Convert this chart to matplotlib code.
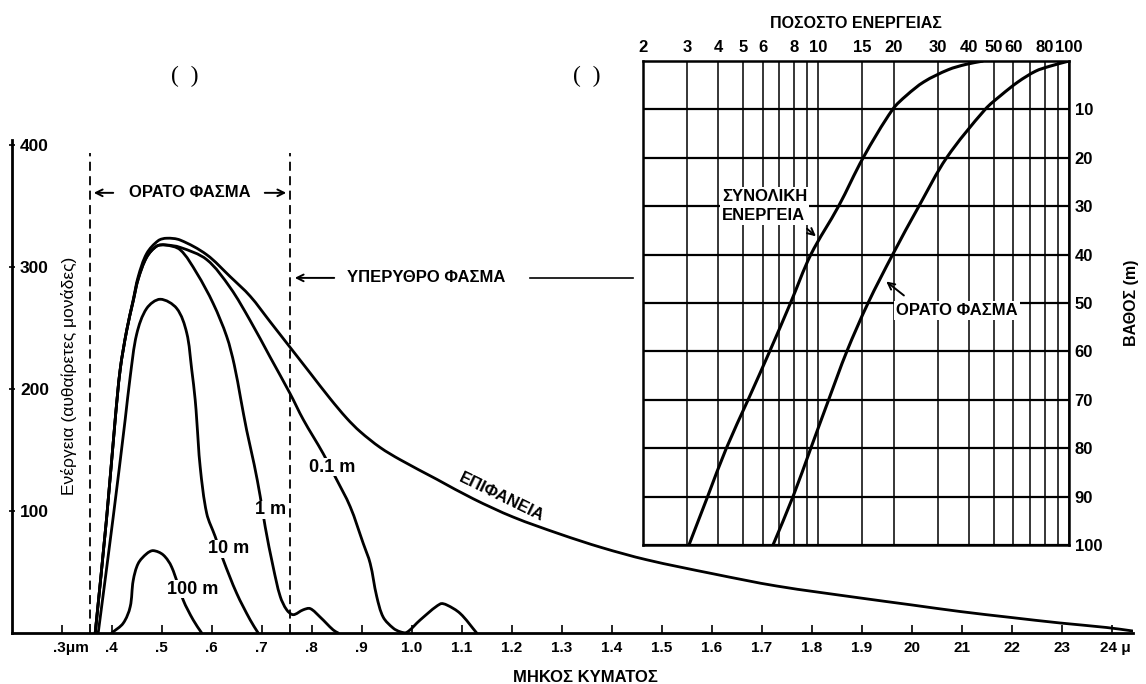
import matplotlib
matplotlib.use('Agg')
import matplotlib.pyplot as plt
import numpy as np
from matplotlib.path import Path
from matplotlib.patches import PathPatch
from matplotlib.transforms import ScaledTranslation

plt.rcParams['font.family'] = ['Liberation Sans', 'DejaVu Sans']
plt.rcParams['font.weight'] = 'bold'
plt.rcParams['axes.labelweight'] = 'bold'

# spectral energy vs wavelength (micron), arbitrary units
lam_surface = [0.367, 0.39, 0.407, 0.417, 0.43, 0.443, 0.453, 0.47, 0.493, 0.51, 0.537, 0.59, 0.637,
               0.677, 0.717, 0.757, 0.797, 0.837, 0.87, 0.897, 0.937, 0.977, 1.05, 1.123, 1.203, 1.297,
               1.38, 1.47, 1.603, 1.73, 1.897, 2.0, 2.097, 2.197, 2.297, 2.39, 2.443]
e_surface = [0, 95, 175, 216, 248, 273, 292, 311, 321.5, 323.5, 322, 310, 292,
             276, 255, 234, 213, 192, 176, 165, 152, 142, 126, 110, 95, 81,
             70, 60, 48.5, 38.5, 28.7, 23, 17.6, 12.8, 8.2, 4.5, 1.6]

lam_01m = [0.367, 0.39, 0.407, 0.417, 0.43, 0.443, 0.453, 0.47, 0.49, 0.507, 0.537, 0.59, 0.637, 0.677,
           0.717, 0.757, 0.783, 0.823, 0.847, 0.877, 0.903, 0.917, 0.93, 0.943, 0.963, 0.977, 0.99,
           1.017, 1.057, 1.07, 1.097, 1.13]
e_01m = [0, 95, 175, 216, 248, 272, 290, 308, 317, 318, 316, 306, 283, 256,
         226, 196, 175, 147, 128, 103.5, 73.5, 57, 30, 13, 4, 1, 0.5,
         10.7, 23.8, 23, 16, 0]

lam_1m = [0.367, 0.39, 0.407, 0.417, 0.43, 0.443, 0.453, 0.47, 0.49, 0.507, 0.537, 0.57, 0.603, 0.63,
          0.645, 0.658, 0.67, 0.685, 0.697, 0.707, 0.723, 0.737, 0.75, 0.763, 0.783, 0.797, 0.817,
          0.843, 0.853]
e_1m = [0, 95, 175, 216, 248, 272, 290, 308, 317, 318, 314, 295, 270, 243,
        220, 192, 166, 138, 112, 87, 54, 30, 19, 15, 19, 20, 13,
        2.5, 0]

lam_10m = [0.373, 0.403, 0.427, 0.437, 0.45, 0.47, 0.497, 0.53, 0.55, 0.56, 0.567, 0.57, 0.577, 0.59,
           0.607, 0.623, 0.65, 0.677, 0.693]
e_10m = [0, 95, 175, 210, 245, 266, 273.5, 266, 246, 216, 191, 175, 136, 98,
         79, 60, 32.5, 10.7, 0]

lam_100m = [0.4, 0.423, 0.437, 0.443, 0.453, 0.47, 0.483, 0.503, 0.52, 0.543, 0.563, 0.58]
e_100m = [0, 8, 21.5, 43, 57, 65, 67.5, 64, 54, 27, 10.7, 0]

wl_ticks = [0.3, 0.4, 0.5, 0.6, 0.7, 0.8, 0.9, 1.0, 1.1, 1.2, 1.3, 1.4, 1.5, 1.6, 1.7, 1.8, 1.9,
            2.0, 2.1, 2.2, 2.3, 2.4]
wl_labels = ['.3μm', '.4', '.5', '.6', '.7', '.8', '.9', '1.0', '1.1', '1.2', '1.3', '1.4', '1.5',
             '1.6', '1.7', '1.8', '1.9', '20', '21', '22', '23', '24 μ']
e_ticks = [100, 200, 300, 400]

# percentage of surface energy remaining vs depth (m)
depth_total = [0, 0.7, 1.8, 4.3, 7.1, 10, 20, 30, 40, 50, 60, 70, 80, 90, 100]
pct_total = [45.5, 38.8, 33.0, 26.4, 22.5, 19.8, 15.1, 12.05, 9.34, 7.75, 6.4, 5.25, 4.3, 3.62, 3.05]
depth_visible = [0, 1.1, 2.1, 4.3, 7.1, 10, 20, 30, 40, 50, 60, 70, 80, 90, 100]
pct_visible = [100, 83.6, 73.6, 62.7, 53.5, 46.3, 32.5, 25.2, 19.8, 15.8, 13.0, 11.0, 9.34, 7.93, 6.6]

pct_ticks = [2, 3, 4, 5, 6, 8, 10, 15, 20, 30, 40, 50, 60, 80, 100]
pct_labels = ['2', '3', '4', '5', '6', '8', '10', '15', '20', '30', '40', '50', '60', '80', '100']
pct_minor = [7, 9, 70, 90]
depth_ticks = [10, 20, 30, 40, 50, 60, 70, 80, 90, 100]

W, H = 1146, 684


def box(x0, y0, x1, y1):
    # pixel box (from top-left) -> figure fraction rect
    return [x0 / W, 1 - y1 / H, (x1 - x0) / W, (y1 - y0) / H]


def smooth_path(xs, ys, sx=1.0, sy=1.0):
    # cubic Hermite through every point, chord-length tangents (sx, sy = px per unit)
    p = np.column_stack([np.asarray(xs, float) * sx, np.asarray(ys, float) * sy])
    d = np.hypot(*np.diff(p, axis=0).T)
    n = len(p)
    tang = np.zeros_like(p)
    tang[0] = (p[1] - p[0]) / d[0]
    tang[-1] = (p[-1] - p[-2]) / d[-1]
    for i in range(1, n - 1):
        tang[i] = (p[i + 1] - p[i - 1]) / (d[i - 1] + d[i])
    verts = [p[0]]
    codes = [Path.MOVETO]
    for i in range(n - 1):
        verts += [p[i] + tang[i] * d[i] / 3, p[i + 1] - tang[i + 1] * d[i] / 3, p[i + 1]]
        codes += [Path.CURVE4] * 3
    verts = np.array(verts) / [sx, sy]
    return verts, codes


fig = plt.figure(figsize=(W / 100, H / 100), dpi=100)
fig.patch.set_facecolor('white')

# ---- main spectrum panel ----
ax = fig.add_axes(box(12, 140, 1133, 633))
ax.set_xlim(0.2006, 2.4426)
ax.set_ylim(0, 404)
for side in ['top', 'right']:
    ax.spines[side].set_visible(False)
for side in ['left', 'bottom']:
    ax.spines[side].set_linewidth(2.0)

sx_main, sy_main = 500.0, 1.22
for lam, en in [(lam_surface, e_surface), (lam_01m, e_01m), (lam_1m, e_1m),
                (lam_10m, e_10m), (lam_100m, e_100m)]:
    v, c = smooth_path(lam, en, sx_main, sy_main)
    ax.add_patch(PathPatch(Path(v, c), fc='none', ec='black', lw=2.0, joinstyle='round',
                           capstyle='round'))

ax.vlines([0.357, 0.757], 0, 393, colors='black', lw=1.3, linestyles=(0, (5, 3)))

ax.set_xticks(wl_ticks, wl_labels)
ax.tick_params(axis='x', direction='in', length=6, width=1.2, pad=6, labelsize=11)
ax.set_yticks(e_ticks, [str(v) for v in e_ticks])
ax.tick_params(axis='y', direction='inout', length=5, width=1.2, pad=-8.3, labelsize=12.5)
for lab in ax.get_yticklabels():
    lab.set_ha('left')
xlabs = ax.get_xticklabels()
xlabs[0].set_ha('left')
xlabs[0].set_transform(xlabs[0].get_transform() + ScaledTranslation(-0.09, 0, fig.dpi_scale_trans))
xlabs[-1].set_ha('left')
xlabs[-1].set_transform(xlabs[-1].get_transform() + ScaledTranslation(-0.12, 0, fig.dpi_scale_trans))

ax.set_xlabel('ΜΗΚΟΣ ΚΥΜΑΤΟΣ', fontsize=12)
ax.xaxis.set_label_coords((585 - 12) / 1121, -37 / 493)
ax.set_ylabel('Ενέργεια (αυθαίρετες μονάδες)', fontsize=12.5, fontweight='normal')
ax.yaxis.set_label_coords((77 - 12) / 1121, (633 - 376) / 493)

lab_kw = dict(fontsize=13, ha='center', va='center',
              bbox=dict(fc='white', ec='none', pad=0.5))
ax.text(0.561, 36, '100 m', **lab_kw)
ax.text(0.633, 69, '10 m', **lab_kw)
ax.text(0.7186, 101, '1 m', **lab_kw)
ax.text(0.8416, 136, '0.1 m', **lab_kw)
ax.text(1.18, 111.5, 'ΕΠΙΦΑΝΕΙΑ', fontsize=12, ha='center', va='center', rotation=-26)

arrow_kw = dict(arrowstyle='->', lw=1.4, color='black', mutation_scale=12)
ax.text(0.5556, 360.7, 'ΟΡΑΤΟ ΦΑΣΜΑ', fontsize=12, ha='center', va='center')
ax.annotate('', xy=(0.3586, 360.7), xytext=(0.4086, 360.7), arrowprops=arrow_kw)
ax.annotate('', xy=(0.7546, 360.7), xytext=(0.7006, 360.7), arrowprops=arrow_kw)
ax.text(0.8706, 291, 'ΥΠΕΡΥΘΡΟ ΦΑΣΜΑ', fontsize=12, ha='left', va='center')
ax.annotate('', xy=(0.7606, 291), xytext=(0.8506, 291), arrowprops=arrow_kw)
ax.plot([1.2366, 1.4426], [291, 291], color='black', lw=1.2)

# ---- depth panel ----
ax_in = fig.add_axes(box(643, 61, 1069, 545))
ax_in.set_facecolor('white')
ax_in.set_xscale('log')
ax_in.set_xlim(2, 100)
ax_in.set_ylim(100, 0)
ax_in.xaxis.tick_top()
ax_in.yaxis.tick_right()
ax_in.set_xticks(pct_ticks, pct_labels)
ax_in.set_xticks(pct_minor, [''] * len(pct_minor), minor=True)
ax_in.set_yticks(depth_ticks, [str(v) for v in depth_ticks])
ax_in.tick_params(which='both', length=0, pad=4, labelsize=12)
ax_in.grid(axis='x', which='both', color='black', lw=1.1)
ax_in.grid(axis='y', which='major', color='black', lw=1.6)
for s in ax_in.spines.values():
    s.set_linewidth(1.8)

# smooth in log space, then back to percent for the log axis
for pct, dep in [(pct_total, depth_total), (pct_visible, depth_visible)]:
    v, c = smooth_path(np.log10(pct), dep, 250.7, 4.84)
    v[:, 0] = 10 ** v[:, 0]
    ax_in.add_patch(PathPatch(Path(v, c), fc='none', ec='black', lw=2.2, joinstyle='round'))

ax_in.xaxis.set_label_position('top')
ax_in.set_xlabel('ΠΟΣΟΣΤΟ ΕΝΕΡΓΕΙΑΣ', fontsize=11.5, labelpad=9)
ax_in.yaxis.set_label_position('right')
ax_in.set_ylabel('ΒΑΘΟΣ (m)', fontsize=11.5, labelpad=16)

box_kw = dict(fc='white', ec='none', pad=1.5)
ax_in.text(4.13, 29.9, 'ΣΥΝΟΛΙΚΗ\nΕΝΕΡΓΕΙΑ', fontsize=12, ha='left', va='center',
           linespacing=1.3, bbox=box_kw)
ax_in.annotate('', xy=(9.98, 36.6), xytext=(8.85, 34.3), arrowprops=arrow_kw)
ax_in.text(20.4, 51.6, 'ΟΡΑΤΟ ΦΑΣΜΑ', fontsize=12, ha='left', va='center', bbox=box_kw)
ax_in.annotate('', xy=(18.3, 45.2), xytext=(22.4, 48.8), arrowprops=arrow_kw)

# empty panel markers
fig.text(185 / W, 1 - 76 / H, '(  )', fontsize=17, family='Liberation Serif',
         fontweight='normal', ha='center', va='center')
fig.text(587 / W, 1 - 76 / H, '(  )', fontsize=17, family='Liberation Serif',
         fontweight='normal', ha='center', va='center')

fig.savefig('out.png', dpi=100, facecolor='white')
